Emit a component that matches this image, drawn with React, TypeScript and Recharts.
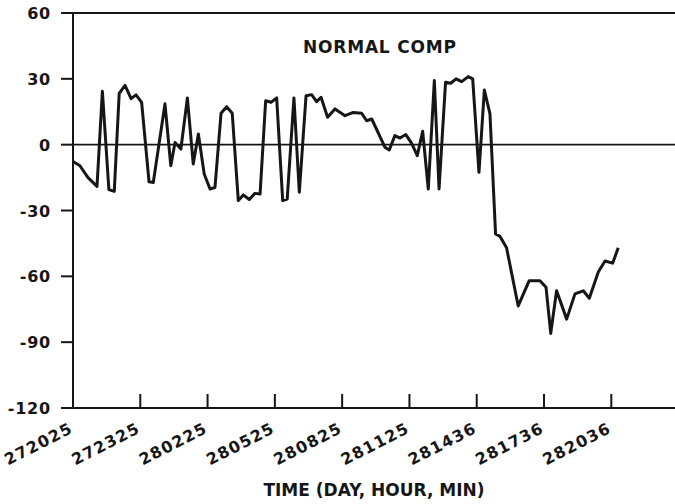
import React from 'react';
import { LineChart, Line, XAxis, YAxis, ReferenceLine } from 'recharts';

// hours elapsed since day 27, 20:25
const times = [
  0, 0.31, 0.67, 1.07, 1.31, 1.6, 1.84, 2.06, 2.32, 2.59, 2.81,
  3.06, 3.39, 3.58, 4.1, 4.36, 4.55, 4.81, 5.1, 5.36, 5.59,
  5.85, 6.11, 6.33, 6.6, 6.85, 7.1, 7.37, 7.59, 7.86, 8.11, 8.34,
  8.59, 8.83, 9.08, 9.35, 9.55, 9.85, 10.09, 10.39, 10.64, 10.86, 11.06, 11.35, 11.68,
  12.13, 12.5, 12.87, 13.09, 13.32, 13.91, 14.1, 14.35, 14.58, 14.84, 15.1, 15.35, 15.59, 15.84,
  16.11, 16.32, 16.61, 16.84, 17.08, 17.33, 17.62, 17.82, 18.1, 18.34, 18.59, 18.84, 19.04, 19.33,
  19.85, 20.34, 20.82, 21.09, 21.3, 21.56, 22.01, 22.38, 22.75, 23.02, 23.42, 23.72, 24.06, 24.31,
];

const normalComp = [
  -7.7, -9.6, -15, -19, 24.3, -20.5, -21.3, 23.4, 27, 21, 22.7,
  19.3, -16.9, -17.2, 18.6, -9.6, 1, -2, 21.3, -8.8, 4.9,
  -13.4, -20.2, -19.5, 14.3, 17.3, 14.3, -25.5, -22.9, -25, -22.2, -22.5,
  20, 19.3, 21.3, -25.5, -24.8, 21.3, -21.7, 22.3, 22.8, 19.6, 21.6, 12.5, 16.3,
  13.2, 14.7, 14.3, 10.9, 11.7, -1.2, -2.4, 4.1, 3, 4.6, 0.6, -5, 6.1, -20.2,
  29.2, -20.2, 28.4, 28, 30, 28.7, 31, 30, -12.6, 24.9, 14, -40.7, -41.8, -47,
  -73.5, -62, -62, -65, -86, -66.6, -79.5, -68, -66.6, -70, -58, -53, -54, -47,
];

const xTickValues = [0, 3, 6, 9, 12, 15, 18, 21, 24];
const xTickLabels = ['272025', '272325', '280225', '280525', '280825', '281125', '281436', '281736', '282036'];
const yTicks = [60, 30, 0, -30, -60, -90, -120];

const data = times.map((t, i) => ({ t, v: normalComp[i] }));

const FONT = '"DejaVu Sans", sans-serif';
const INK = '#161616';

const XTick = (props: any) => {
  const { x, y, payload } = props;
  const idx = xTickValues.indexOf(payload.value);
  const label = idx >= 0 ? xTickLabels[idx] : '';
  const ax = x + 1;
  const ay = y + 24;
  return (
    <g>
      <line x1={x} y1={y} x2={x} y2={y - 14} stroke={INK} strokeWidth={2} />
      <text
        x={ax}
        y={ay}
        textAnchor="end"
        transform={`rotate(-27, ${ax}, ${ay})`}
        fontFamily={FONT}
        fontWeight="bold"
        fontSize={16}
        letterSpacing={1.2}
        fill={INK}
      >
        {label}
      </text>
    </g>
  );
};

const YTick = (props: any) => {
  const { x, y, payload } = props;
  return (
    <text
      x={x}
      y={y}
      dy={6}
      textAnchor="end"
      fontFamily={FONT}
      fontWeight="bold"
      fontSize={16}
      letterSpacing={0.8}
      fill={INK}
    >
      {String(payload.value)}
    </text>
  );
};

export default function App() {
  return (
    <div style={{ position: 'absolute', left: 0, top: 0, width: 675, height: 504, background: '#ffffff' }}>
      <LineChart width={675} height={504} data={data} margin={{ top: 13, right: 0, bottom: 0, left: 0 }}>
        <XAxis
          dataKey="t"
          type="number"
          domain={[0, 26.84]}
          ticks={xTickValues}
          interval={0}
          height={96}
          tickSize={0}
          tickMargin={0}
          tickLine={false}
          axisLine={{ stroke: INK, strokeWidth: 2 }}
          tick={<XTick />}
          label={{
            value: 'TIME (DAY, HOUR, MIN)',
            position: 'insideBottom',
            offset: 8,
            fontFamily: FONT,
            fontWeight: 'bold',
            fontSize: 17,
            fill: INK,
          }}
        />
        <YAxis
          type="number"
          domain={[-120, 60]}
          ticks={yTicks}
          interval={0}
          width={73}
          tickSize={12}
          tickMargin={10}
          tickLine={{ stroke: INK, strokeWidth: 2 }}
          axisLine={{ stroke: INK, strokeWidth: 2 }}
          tick={<YTick />}
        />
        <ReferenceLine y={60} stroke={INK} strokeWidth={2} />
        <ReferenceLine y={0} stroke={INK} strokeWidth={1.6} />
        <Line
          type="linear"
          dataKey="v"
          stroke={INK}
          strokeWidth={3}
          strokeLinejoin="round"
          dot={false}
          isAnimationActive={false}
        />
      </LineChart>
      <div
        style={{
          position: 'absolute',
          left: 303,
          top: 37,
          fontFamily: FONT,
          fontWeight: 'bold',
          fontSize: 17,
          letterSpacing: 0.8,
          color: INK,
          whiteSpace: 'nowrap',
          lineHeight: '20px',
        }}
      >
        NORMAL COMP
      </div>
    </div>
  );
}
